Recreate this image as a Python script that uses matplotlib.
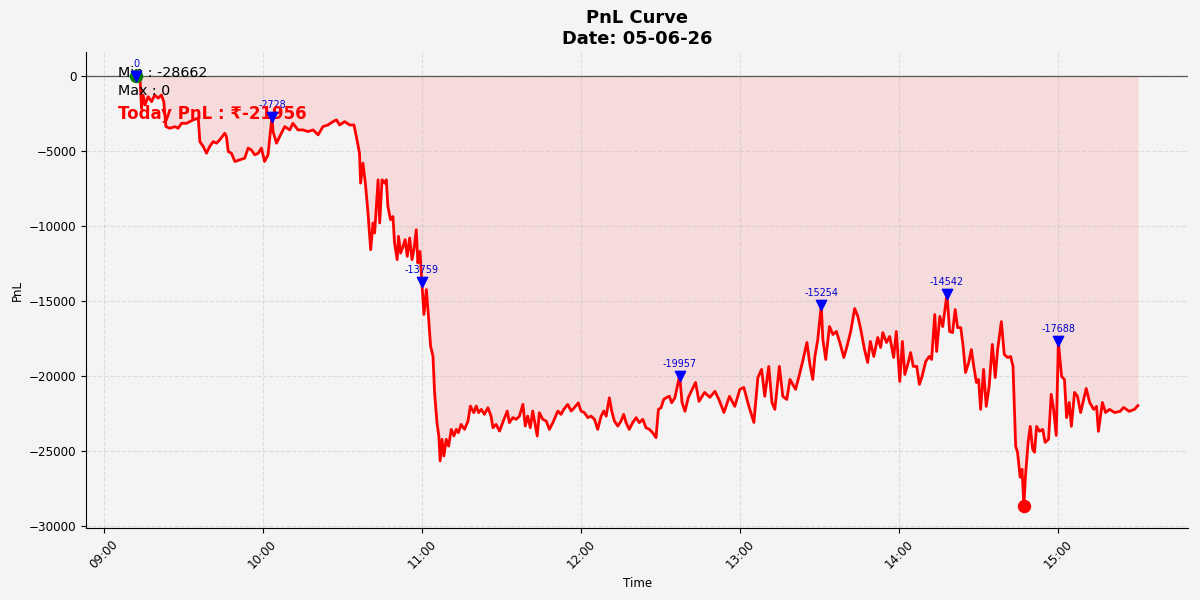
import numpy as np
import matplotlib
matplotlib.use("Agg")
import matplotlib.pyplot as plt
import matplotlib.dates as mdates

# pnl curve of one trading day, sampled from the terminal export
trade_date = "05-06-26"
day_start = "2026-06-05T09:00"

# minutes after 09:00
minutes = [
    12.4, 13.7, 14.3, 14.9, 15.6, 16.8, 18.1, 19.3, 20.6, 21.8, 22.7, 23.5, 25.0, 26.9, 28.1, 29.4,
    31.3, 33.8, 35.7, 36.3, 37.6, 38.8, 40.0, 41.3, 42.6, 43.8, 45.7, 46.3, 47.0, 48.2, 49.5, 51.3,
    53.2, 54.5, 55.7, 57.0, 58.3, 59.5, 60.7, 62.0, 63.5, 63.9, 65.2, 66.4, 68.3, 70.2, 71.4, 73.3,
    75.2, 77.1, 79.0, 80.9, 82.7, 84.6, 86.5, 87.8, 89.0, 90.9, 92.8, 94.4, 95.3, 96.5, 96.9, 97.8,
    98.7, 99.7, 100.7, 101.6, 102.2, 103.5, 104.1, 105.0, 106.0, 106.6, 107.2, 108.2, 109.1, 109.7,
    110.7, 111.2, 112.0, 112.9, 113.7, 114.5, 115.4, 116.3, 117.0, 117.9, 118.5, 119.3, 120.0, 120.8,
    121.7, 122.5, 123.3, 124.2, 124.8, 125.7, 126.4, 126.9, 127.6, 128.3, 129.2, 130.1, 131.1, 132.1,
    133.0, 133.8, 134.8, 136.1, 137.4, 138.3, 139.6, 140.5, 141.4, 142.4, 143.6, 144.9, 146.1, 146.8,
    148.0, 149.3, 150.5, 152.2, 153.0, 154.3, 155.6, 156.8, 158.1, 159.0, 159.9, 160.9, 161.8, 163.5,
    164.3, 165.6, 166.9, 168.1, 169.4, 171.3, 172.5, 173.5, 175.0, 176.3, 177.5, 179.0, 180.0, 181.3,
    182.6, 183.8, 185.1, 186.3, 187.6, 188.6, 189.5, 190.7, 191.6, 192.6, 193.9, 195.1, 196.1, 197.0,
    198.2, 199.5, 200.8, 202.0, 203.3, 204.5, 205.8, 207.0, 208.3, 209.2, 210.2, 211.2, 212.1, 213.3,
    214.2, 215.4, 217.2, 218.1, 219.2, 220.5, 223.2, 224.5, 226.6, 228.6, 230.5, 232.0, 233.9, 236.0,
    238.0, 239.9, 241.4, 243.3, 245.2, 246.7, 248.1, 249.3, 250.8, 252.0, 253.1, 254.8, 256.1, 257.6,
    258.8, 260.9, 262.2, 263.6, 265.2, 266.3, 267.4, 268.2, 269.3, 270.6, 271.2, 272.3, 273.7, 275.0,
    276.3, 277.6, 279.1, 280.2, 281.7, 283.2, 284.4, 285.5, 286.9, 288.1, 289.1, 290.4, 291.9, 293.0,
    293.8, 295.2, 296.4, 297.9, 298.9, 300.2, 301.2, 302.1, 303.2, 304.3, 305.3, 306.6, 307.6, 308.6,
    310.0, 311.3, 312.2, 313.4, 314.1, 315.3, 316.4, 318.0, 319.0, 320.1, 321.1, 322.0, 323.2, 324.1,
    325.0, 326.2, 327.2, 328.1, 329.1, 329.9, 330.7, 331.8, 332.8, 333.9, 335.1, 336.2, 337.1, 338.5,
    339.6, 340.9, 342.0, 342.9, 343.9, 344.6, 345.6, 346.3, 347.0, 347.6, 348.6, 349.4, 350.3, 351.0,
    351.8, 352.9, 354.1, 355.0, 356.3, 357.3, 358.2, 359.2, 360.0, 361.2, 362.3, 363.1, 364.1, 364.9,
    366.1, 367.2, 368.4, 370.5, 371.8, 373.3, 374.4, 375.1, 376.6, 377.8, 379.3, 381.2, 383.3, 384.6,
    386.7, 388.7, 390.0,
]

pnl_values = [
    0, -50, -2180, -1300, -1960, -1410, -1740, -1300, -1510, -1300, -1740, -3400, -3510, -3400, -3510, -3180,
    -3180, -2950, -2840, -4400, -4730, -5170, -4730, -4400, -4500, -4280, -3840, -4060, -5060, -5170, -5720, -5610,
    -5500, -4830, -4950, -5280, -5170, -4830, -5720, -5280, -2728, -3730, -4500, -4060, -3400, -3620, -3180, -3620,
    -3620, -3730, -3620, -3950, -3400, -3290, -3070, -2950, -3290, -3070, -3290, -3290, -4060, -5170, -7160, -5830,
    -7160, -9150, -11590, -9810, -10480, -6940, -9810, -6940, -7160, -6940, -8710, -9590, -9380, -11140,
    -12250, -10700, -11810, -11370, -10920, -12030, -10810, -12250, -11590, -10260, -12470, -11700, -13759, -15900,
    -14240, -16020, -18010, -18670, -21100, -23090, -23980, -25640, -24200, -25310, -24200, -24650, -23540, -23980,
    -23540, -23760, -23210, -23540, -22990, -21990, -22430, -21990, -22430, -22210, -22540, -22100, -22660, -23430,
    -23210, -23650, -23090, -22320, -23090, -22760, -22870, -22660, -21880, -23320, -22660, -23430, -22320, -23980,
    -22430, -22870, -22990, -23540, -23090, -22320, -22540, -22210, -21880, -22320, -22100, -21770, -22320, -22430,
    -22760, -22660, -22870, -23540, -22660, -22320, -22660, -21440, -22320, -22990, -23320, -22990, -22540, -23090,
    -23540, -23090, -22760, -23090, -22870, -23430, -23540, -23760, -24090, -22210, -22100, -21540, -21440, -21330,
    -21770, -21440, -19957, -21750, -22340, -21410, -20420, -21680, -21080, -21410, -21010, -21550, -22420, -21340,
    -22010, -20880, -20750, -22010, -23080, -20090, -19550, -21340, -19350, -21750, -22210, -19350, -21340, -21550,
    -20220, -20880, -20020, -19010, -17760, -19220, -20220, -18690, -17560, -15254, -17560, -18890, -16700, -17230,
    -17030, -17760, -18760, -18090, -17030, -15500, -16030, -16900, -18230, -19090, -17690, -18690, -17430, -18090,
    -17100, -17760, -17360, -18760, -17030, -20350, -17690, -19890, -19220, -18430, -19350, -19350, -20550, -20020,
    -19020, -18690, -18890, -15900, -18360, -16030, -16700, -14542, -17030, -17100, -15570, -16770, -16770, -18030,
    -19760, -19090, -18230, -19350, -20420, -20220, -22210, -19550, -22010, -20690, -17890, -20090, -18230, -16370,
    -18560, -18760, -18690, -19350, -24660, -25060, -26720, -26190, -28662, -26650, -24400, -23340, -24860, -25060,
    -23340, -23670, -23540, -24400, -24200, -21210, -22210, -23940, -17688, -20020, -20220, -22760, -21750, -23340,
    -21080, -21340, -22420, -20820, -21750, -22210, -22010, -23670, -21750, -22420, -22210, -22420, -22340, -22080,
    -22340, -22210, -21956,
]

mins = np.array(minutes)
pnl = np.array(pnl_values, dtype=float)
times = np.datetime64(day_start) + np.round(mins * 60).astype("timedelta64[s]")

# hourly peaks
hour_of = (mins // 60).astype(int)
peak_idx = [np.where(hour_of == h)[0][np.argmax(pnl[hour_of == h])] for h in np.unique(hour_of)]

bg = "#f4f4f4"
fig, ax = plt.subplots(figsize=(12, 6), dpi=100)
fig.patch.set_facecolor(bg)
ax.set_facecolor(bg)
fig.subplots_adjust(left=0.072, right=0.99, bottom=0.12, top=0.913)

ax.fill_between(times, pnl, 0, where=pnl <= 0, color="red", alpha=0.1, interpolate=True, lw=0)
ax.plot(times, pnl, color="red", lw=2, zorder=3)
ax.axhline(0, color="#555555", lw=0.9, zorder=2)

imax = int(np.argmax(pnl))
imin = int(np.argmin(pnl))
ax.scatter(times[imax], pnl[imax], color="green", s=75, zorder=4)
ax.scatter(times[imin], pnl[imin], color="red", s=75, zorder=5)

for i in peak_idx:
    ax.scatter(times[i], pnl[i], marker="v", color="blue", s=55, zorder=6)
    ax.annotate(f"{int(pnl[i])}", (times[i], pnl[i]), textcoords="offset points", xytext=(0, 5),
                ha="center", va="bottom", fontsize=6.9, color="mediumblue")

ax.text(0.029, 0.956, f"Min : {int(pnl.min())}", transform=ax.transAxes, fontsize=10.3, va="center")
ax.text(0.029, 0.918, f"Max : {int(pnl.max())}", transform=ax.transAxes, fontsize=10.3, va="center")
ax.text(0.029, 0.870, f"Today PnL : \u20b9{int(pnl[-1])}", transform=ax.transAxes, fontsize=12,
        fontweight="bold", color="red", va="center")

ax.set_title(f"PnL Curve\nDate: {trade_date}", fontsize=12.9, fontweight="bold")
ax.set_xlabel("Time", fontsize=8.6)
ax.set_ylabel("PnL", fontsize=8.6)
ax.set_ylim(-30100, 1550)

ax.xaxis.set_major_locator(mdates.HourLocator())
ax.xaxis.set_major_formatter(mdates.DateFormatter("%H:%M"))
ax.tick_params(labelsize=8.6)
plt.setp(ax.get_xticklabels(), rotation=45)

ax.grid(True, linestyle="--", alpha=0.35)
ax.spines["top"].set_visible(False)
ax.spines["right"].set_visible(False)

fig.savefig("out.png", facecolor=bg)
